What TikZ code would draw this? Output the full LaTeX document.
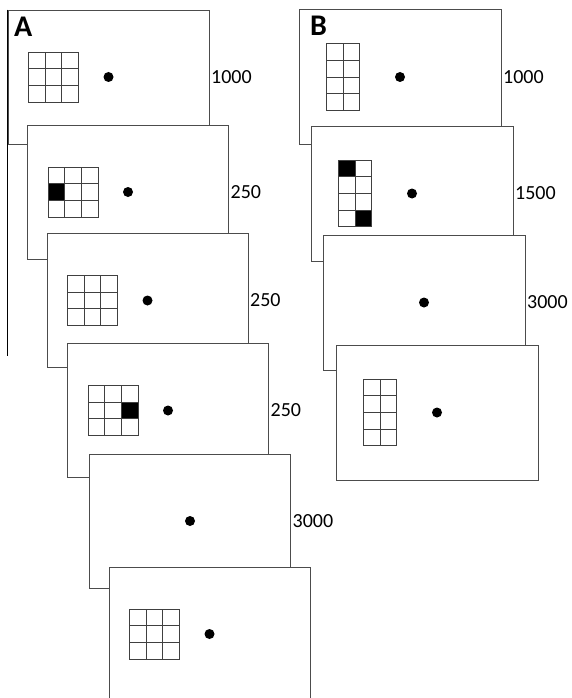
\documentclass[tikz,border=0pt]{standalone}
\usepackage{fontspec}
\setmainfont{Carlito}
\usetikzlibrary{positioning}

\newcommand{\cellsz}{16.67}
% grid of cells, #1 top left corner, #2 columns, #3 rows
\newcommand{\stimgrid}[3]{%
	\begin{scope}[shift={#1}]
		\foreach \c in {1,...,#2}
			\foreach \r in {1,...,#3}
				\draw[cell] (\c*\cellsz-\cellsz, \r*\cellsz-\cellsz) rectangle ++(\cellsz,\cellsz);
	\end{scope}}
% filled cell, #1 top left corner of grid, #2 column, #3 row
\newcommand{\blackcell}[3]{%
	\begin{scope}[shift={#1}]
		\fill (#2*\cellsz-\cellsz, #3*\cellsz-\cellsz) rectangle ++(\cellsz,\cellsz);
	\end{scope}}

\tikzset{
	screen/.style={draw=black!70, fill=white, line width=0.9pt, minimum width=201pt, minimum height=134pt, inner sep=0pt},
	fixdot/.style={circle, fill=black, inner sep=0pt, minimum size=10pt},
	cell/.style={draw=black!75, line width=0.9pt},
	dur/.style={right=1.5pt of #1, inner sep=0pt, font=\fontsize{20}{24}\selectfont},
	panel/.style={anchor=base west, inner sep=0pt, font=\fontsize{30}{36}\selectfont\bfseries}
}

\begin{document}
\begin{tikzpicture}[x=1pt, y=-1pt]
	\useasboundingbox (0,0) rectangle (571,698);

	% panel A
	\node[screen] (a1) at (108.5,77) {};
	\draw[line width=1.8pt] (a1.north west) -- (a1.south west);
	\draw[line width=0.9pt] (a1.south west) -- ++(0,212);
	\node[fixdot] (da1) at (a1.center) {};
	\stimgrid{(28.5,52)}{3}{3}
	\node[dur=a1] (ta1) {1000};
	\node[panel] (labA) at (14,37) {A};

	\node[screen] (a2) at (128,192) {};
	\node[fixdot] (da2) at (a2.center) {};
	\blackcell{(48,167)}{1}{2}
	\stimgrid{(48,167)}{3}{3}
	\node[dur=a2] (ta2) {250};

	\node[screen] (a3) at (147.5,300.5) {};
	\node[fixdot] (da3) at (a3.center) {};
	\stimgrid{(67.5,275.5)}{3}{3}
	\node[dur=a3] (ta3) {250};

	\node[screen] (a4) at (168,410.5) {};
	\node[fixdot] (da4) at (a4.center) {};
	\blackcell{(88,385.5)}{3}{2}
	\stimgrid{(88,385.5)}{3}{3}
	\node[dur=a4] (ta4) {250};

	\node[screen] (a5) at (190,521) {};
	\node[fixdot] (da5) at (a5.center) {};
	\node[dur=a5] (ta5) {3000};

	\node[screen] (a6) at (209.5,634) {};
	\node[fixdot] (da6) at (a6.center) {};
	\stimgrid{(129.5,609)}{3}{3}

	% panel B
	\node[screen, minimum width=202pt, minimum height=135pt] (b1) at (400,77) {};
	\node[fixdot] (db1) at (b1.center) {};
	\stimgrid{(326.5,43.7)}{2}{4}
	\node[dur=b1] (tb1) {1000};
	\node[panel] (labB) at (310,36) {B};

	\node[screen, minimum width=202pt, minimum height=135pt] (b2) at (412,193.5) {};
	\node[fixdot] (db2) at (b2.center) {};
	\blackcell{(338.5,160.2)}{1}{1}
	\blackcell{(338.5,160.2)}{2}{4}
	\stimgrid{(338.5,160.2)}{2}{4}
	\node[dur=b2] (tb2) {1500};

	\node[screen, minimum width=202pt, minimum height=135pt] (b3) at (424,302.5) {};
	\node[fixdot] (db3) at (b3.center) {};
	\node[dur=b3] (tb3) {3000};

	\node[screen, minimum width=202pt, minimum height=135pt] (b4) at (437,412.5) {};
	\node[fixdot] (db4) at (b4.center) {};
	\stimgrid{(363.5,379.2)}{2}{4}
\end{tikzpicture}
\end{document}
